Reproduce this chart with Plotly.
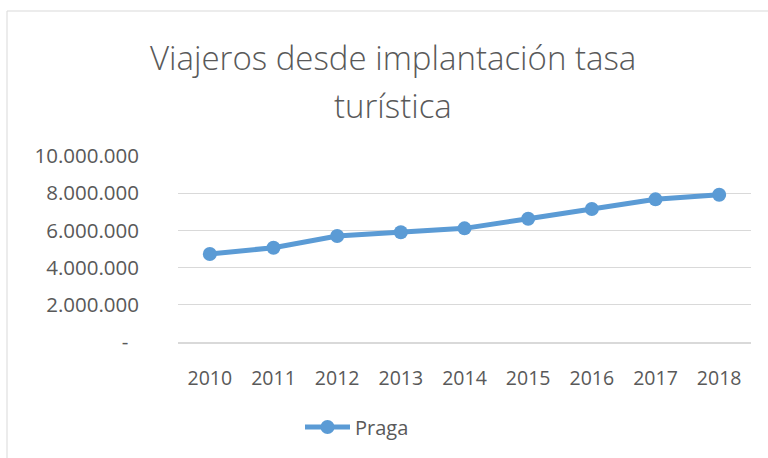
import plotly.graph_objects as go

years = ["2010", "2011", "2012", "2013", "2014", "2015", "2016", "2017", "2018"]
praga = [4730000, 5070000, 5700000, 5900000, 6110000, 6630000, 7150000, 7670000, 7920000]
ytick_vals = [0, 2000000, 4000000, 6000000, 8000000, 10000000]
ytick_text = ["-\u00a0\u00a0", "2.000.000", "4.000.000", "6.000.000", "8.000.000", "10.000.000"]
title_lines = ["Viajeros desde implantación tasa", "turística"]

W, H = 768, 458
L, R, T, B = 178, 17, 156, 116
pw, ph = W - L - R, H - T - B

def px(x):
    return (x - L) / pw

def py(y):
    return (H - B - y) / ph

FONT = "Open Sans"
GREY = "#595959"
BLUE = "#5B9BD5"

fig = go.Figure()
fig.add_trace(go.Scatter(
    x=years, y=praga, name="Praga", mode="lines+markers",
    line=dict(color=BLUE, width=5),
    marker=dict(color=BLUE, size=14),
))

fig.update_layout(
    width=W, height=H,
    margin=dict(l=L, r=R, t=T, b=B),
    paper_bgcolor="white", plot_bgcolor="white",
    font=dict(family=FONT, color=GREY, size=19),
    showlegend=True,
    legend=dict(x=px(357), y=py(427), xanchor="center", yanchor="middle",
                orientation="h", font=dict(size=20, color=GREY),
                itemwidth=45, bgcolor="rgba(0,0,0,0)"),
    xaxis=dict(type="category", range=[-0.5, 8.5], showgrid=False,
               showline=True, linecolor="#d9d9d9", linewidth=2,
               ticks="", ticklabelstandoff=18,
               tickfont=dict(size=19.5, color=GREY)),
    yaxis=dict(range=[0, 10000000], tickvals=ytick_vals, ticktext=ytick_text,
               showgrid=True, gridcolor="#d9d9d9", gridwidth=1,
               zeroline=False, showline=False, ticks="",
               ticklabelstandoff=38,
               tickfont=dict(size=20.5, color=GREY)),
    shapes=[
        dict(type="line", xref="paper", yref="paper", x0=px(7), x1=px(780), y0=py(11), y1=py(11),
             line=dict(color="#d9d9d9", width=1)),
        dict(type="line", xref="paper", yref="paper", x0=px(7), x1=px(7), y0=py(11), y1=py(470),
             line=dict(color="#d9d9d9", width=1)),
    ],
    annotations=[
        dict(text=title_lines[0], xref="paper", yref="paper", x=px(393), y=py(57),
             xanchor="center", yanchor="middle", showarrow=False,
             font=dict(family=FONT, size=33, color=GREY, weight=300)),
        dict(text=title_lines[1], xref="paper", yref="paper", x=px(393), y=py(105),
             xanchor="center", yanchor="middle", showarrow=False,
             font=dict(family=FONT, size=33, color=GREY, weight=300)),
    ],
)

fig.write_html("out.html", config={"displayModeBar": False},
               post_script="document.body.style.margin='0';document.body.style.padding='0';")
